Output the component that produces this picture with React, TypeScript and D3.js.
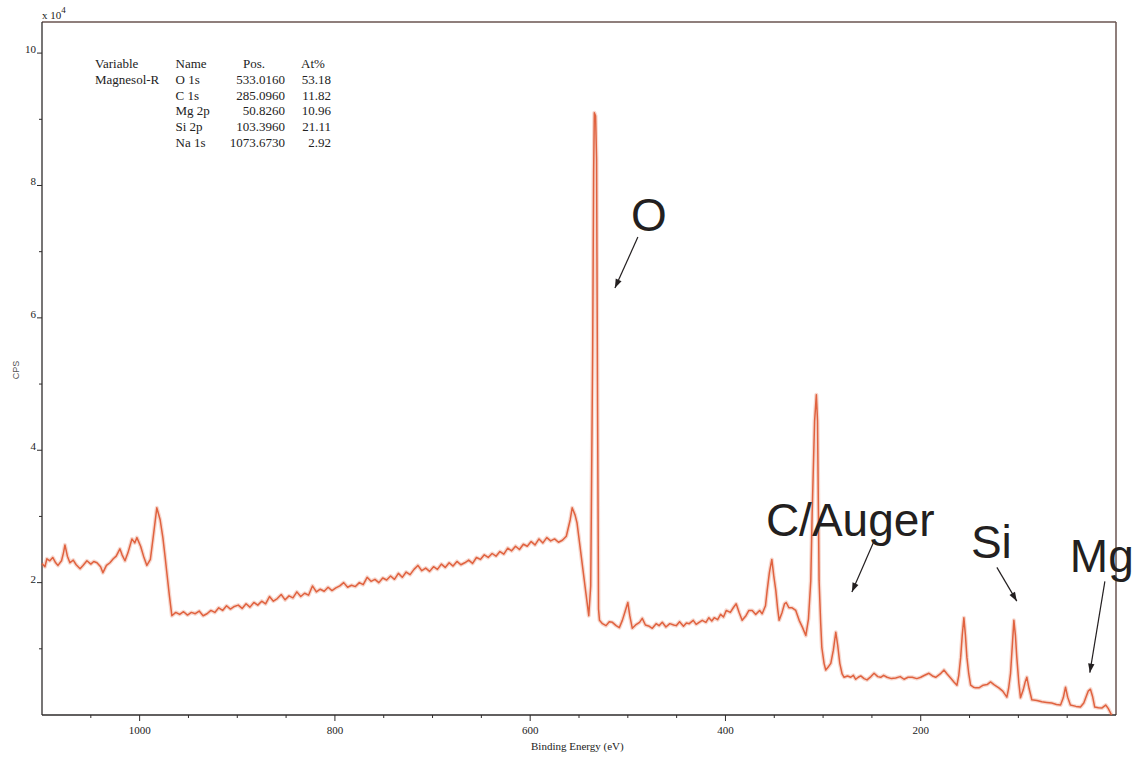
import React, { useEffect } from "react";
import * as d3 from "d3";

// XPS survey spectrum: [binding energy (eV), counts (x10^4 CPS)]
const spectrum: [number, number][] = [
  [1100, 2.29], [1097, 2.24], [1095, 2.36], [1092, 2.33], [1089, 2.38], [1086, 2.30], [1083.6, 2.26],
  [1080, 2.33], [1078, 2.45], [1076.5, 2.57], [1074, 2.40], [1071.4, 2.30], [1068, 2.34], [1065, 2.27],
  [1061, 2.21], [1058, 2.26], [1054, 2.33], [1050, 2.28], [1047, 2.32], [1043.7, 2.30], [1040, 2.24],
  [1037.6, 2.15], [1034, 2.26], [1030.4, 2.30], [1027, 2.36], [1024, 2.40], [1020.2, 2.51], [1018, 2.42],
  [1015, 2.33], [1012, 2.45], [1007.9, 2.66], [1005, 2.60], [1002.8, 2.68], [999, 2.55], [996, 2.40],
  [992.6, 2.26], [989, 2.35], [986, 2.70], [982.4, 3.13], [979, 2.95], [976.2, 2.68], [974, 2.40],
  [972, 2.13], [969.5, 1.80], [967, 1.50], [963, 1.55], [959, 1.52], [955, 1.56], [951, 1.51], [947, 1.55],
  [943, 1.53], [939, 1.57], [935, 1.50], [931, 1.53], [927, 1.58], [923, 1.55], [919, 1.62], [915, 1.58],
  [911, 1.65], [907, 1.60], [903, 1.64], [899, 1.66], [895, 1.61], [891, 1.68], [887, 1.63], [883, 1.70],
  [879, 1.66], [875, 1.72], [871, 1.68], [867, 1.79], [863, 1.72], [859, 1.76], [855, 1.82], [851, 1.74],
  [847, 1.80], [843, 1.77], [839, 1.86], [835, 1.79], [831, 1.84], [827, 1.81], [823, 1.95], [819, 1.86],
  [815, 1.90], [811, 1.87], [807, 1.93], [803, 1.88], [799, 1.92], [795, 1.95], [791, 2.00], [787, 1.93],
  [783, 1.96], [779, 1.94], [775, 2.00], [771, 1.97], [767, 2.08], [763, 2.02], [759, 2.05], [755, 2.00],
  [751, 2.07], [747, 2.04], [743, 2.10], [739, 2.05], [735, 2.14], [731, 2.08], [727, 2.16], [723, 2.12],
  [719, 2.20], [715, 2.26], [711, 2.18], [707, 2.22], [703, 2.17], [699, 2.24], [695, 2.20], [691, 2.28],
  [687, 2.23], [683, 2.30], [679, 2.25], [675, 2.32], [671, 2.27], [667, 2.30], [663, 2.34], [659, 2.29],
  [655, 2.38], [651, 2.35], [647, 2.42], [643, 2.38], [639, 2.44], [635, 2.40], [631, 2.47], [627, 2.43],
  [623, 2.52], [619, 2.48], [615, 2.55], [611, 2.50], [607, 2.58], [603, 2.55], [599, 2.62], [595, 2.57],
  [591, 2.66], [587, 2.60], [583, 2.68], [579, 2.63], [575, 2.66], [571, 2.61], [567, 2.64], [563, 2.70],
  [559, 2.95], [557, 3.13], [554, 3.02], [552, 2.90], [549, 2.55], [546, 2.20], [543, 1.85], [540, 1.50],
  [538, 1.95], [536, 5.5], [535, 8.2], [534.3, 9.10], [533, 9.05], [532, 8.4], [531, 4.7], [530, 1.6],
  [529, 1.43], [526, 1.38], [522.3, 1.35], [519, 1.41], [515.8, 1.40], [512, 1.35], [508.7, 1.32],
  [505.6, 1.43], [502, 1.60], [500, 1.70], [498, 1.50], [495.4, 1.31], [492, 1.36], [488, 1.40],
  [485.2, 1.46], [482, 1.36], [478, 1.34], [474.9, 1.31], [471, 1.38], [468, 1.35], [464.7, 1.40],
  [461, 1.33], [457, 1.38], [453, 1.36], [450.4, 1.35], [447, 1.41], [443, 1.34], [440, 1.39],
  [437.1, 1.38], [433, 1.43], [430, 1.37], [427, 1.40], [423.8, 1.43], [420, 1.40], [417, 1.47],
  [414, 1.42], [411.5, 1.47], [408, 1.44], [405, 1.52], [402, 1.48], [399.2, 1.58], [395, 1.55],
  [392, 1.62], [389, 1.68], [386, 1.55], [382.9, 1.43], [379, 1.50], [376, 1.58], [372.6, 1.58],
  [369, 1.52], [365, 1.58], [362.4, 1.53], [359, 1.65], [357.3, 1.88], [355, 2.15], [352.5, 2.35],
  [350.5, 2.10], [348.4, 1.88], [346.5, 1.60], [345, 1.43], [342, 1.55], [339.5, 1.68], [337.8, 1.70],
  [335, 1.62], [331.7, 1.62], [328, 1.58], [324.5, 1.43], [321, 1.32], [317.7, 1.20], [315, 1.45],
  [312.6, 2.03], [311.2, 3.04], [309.5, 4.0], [308.7, 4.44], [306.9, 4.84], [305.7, 4.44], [304.1, 2.03],
  [302.5, 1.40], [301.3, 1.02], [299, 0.78], [297.3, 0.68], [295, 0.72], [292.1, 0.78], [289.5, 0.98],
  [287, 1.25], [285, 1.05], [282.9, 0.78], [280.5, 0.62], [278.5, 0.57], [275, 0.59], [271.7, 0.57],
  [269, 0.60], [266.6, 0.54], [264, 0.57], [261.4, 0.59], [258, 0.55], [255, 0.53], [251, 0.58],
  [247.8, 0.63], [244, 0.58], [241, 0.57], [238, 0.60], [234.5, 0.57], [230, 0.55], [225.6, 0.56],
  [221, 0.58], [217.1, 0.54], [213, 0.57], [208.7, 0.57], [204, 0.55], [200, 0.57], [196, 0.60],
  [191.6, 0.63], [188, 0.59], [184.7, 0.57], [180, 0.62], [176.2, 0.68], [173, 0.62], [169.4, 0.56],
  [166, 0.50], [162.9, 0.45], [161, 0.60], [159.1, 0.87], [157.5, 1.20], [155.8, 1.47], [154.2, 1.20],
  [152.7, 0.87], [150.8, 0.62], [148.9, 0.45], [146, 0.42], [143.8, 0.41], [140.4, 0.41], [136, 0.45],
  [132, 0.46], [128.5, 0.50], [125, 0.46], [122, 0.43], [120, 0.41], [116, 0.36], [111.8, 0.27],
  [110, 0.40], [108, 0.63], [106.2, 1.05], [104.6, 1.43], [103, 1.20], [101.6, 0.87], [99.5, 0.48],
  [97.8, 0.26], [95, 0.38], [93, 0.50], [91.3, 0.57], [89, 0.40], [86.2, 0.23], [81, 0.22], [76, 0.20],
  [71, 0.19], [65.8, 0.18], [61, 0.16], [56.8, 0.15], [54, 0.26], [51.7, 0.42], [49.5, 0.27],
  [46.7, 0.15], [41, 0.13], [36.4, 0.12], [33, 0.18], [31, 0.26], [28.5, 0.36], [26.2, 0.39],
  [24, 0.28], [21.8, 0.12], [18, 0.11], [14.6, 0.105], [10.6, 0.15], [8, 0.10], [4.5, 0.0],
];

const xMajorTicks = [1000, 800, 600, 400, 200];
const xMinorTicks = [1050, 950, 900, 850, 750, 700, 650, 550, 500, 450, 350, 300, 250, 150, 100, 50];
const yMajorTicks = [2, 4, 6, 8, 10];
const yMinorTicks = [1, 3, 5, 7, 9];

const tableHeader = ["Variable", "Name", "Pos.", "At%"];
const sampleName = "Magnesol-R";
const peakNames = ["O 1s", "C 1s", "Mg 2p", "Si 2p", "Na 1s"];
const peakPositions = ["533.0160", "285.0960", "50.8260", "103.3960", "1073.6730"];
const atomicPercent = ["53.18", "11.82", "10.96", "21.11", "2.92"];

// annotation label anchor and arrow, in data coordinates (eV, x10^4 CPS)
const annotations = [
  { label: "O", at: [496.8, 7.31], from: [489.7, 7.22], to: [513.2, 6.45] },
  { label: "C/Auger", at: [358.6, 2.70], from: [248.0, 2.62], to: [270.5, 1.86] },
  { label: "Si", at: [148.6, 2.37], from: [122.0, 2.23], to: [101.6, 1.72] },
  { label: "Mg", at: [47.3, 2.16], from: [11.4, 2.02], to: [26.8, 0.64] },
];

const W = 1133;
const H = 758;
const left = 42;
const right = 1116;
const top = 22;
const bottom = 715;

export default function App() {
  useEffect(() => {
    document.body.style.margin = "0";
  }, []);

  const x = d3.scaleLinear().domain([1100, 0]).range([left, right]);
  const y = d3.scaleLinear().domain([0, 10.47]).range([bottom, top]);

  const line = d3
    .line<[number, number]>()
    .x((d) => x(d[0]))
    .y((d) => y(d[1]));

  const serif = "'Liberation Serif', 'Times New Roman', serif";
  const sans = "'Liberation Sans', Arial, sans-serif";
  const lineColor = "#e0623f";
  const axisColor = "#2e2b2b";
  const frameColor = "#6a5450";

  const rowY = (i: number) => 68 + i * 15.8;

  const arrowHead = (fx: number, fy: number, tx: number, ty: number) => {
    const ang = Math.atan2(ty - fy, tx - fx);
    const len = 9;
    const half = 3.2;
    const bx = tx - len * Math.cos(ang);
    const by = ty - len * Math.sin(ang);
    const px = -Math.sin(ang) * half;
    const py = Math.cos(ang) * half;
    return `${tx},${ty} ${bx + px},${by + py} ${bx - px},${by - py}`;
  };

  return (
    <svg
      width={W}
      height={H}
      style={{ position: "absolute", left: 0, top: 0, background: "#fff" }}
    >
      <rect x={0} y={0} width={W} height={H} fill="#fff" />

      {/* frame */}
      <line x1={left} y1={top} x2={right} y2={top} stroke={frameColor} strokeWidth={1.5} />
      <line x1={right} y1={top} x2={right} y2={bottom} stroke={frameColor} strokeWidth={1.5} />
      <line x1={left} y1={top} x2={left} y2={bottom} stroke={axisColor} strokeWidth={1.3} />
      <line x1={left} y1={bottom} x2={right} y2={bottom} stroke={axisColor} strokeWidth={1.3} />

      {/* y ticks */}
      {yMajorTicks.map((t) => (
        <g key={"ym" + t}>
          <line x1={left - 5} x2={left} y1={y(t)} y2={y(t)} stroke={axisColor} strokeWidth={1} />
          <text
            x={left - 6}
            y={y(t)}
            textAnchor="end"
            fontFamily={serif}
            fontSize={11}
            fill="#222"
          >
            {t}
          </text>
        </g>
      ))}
      {yMinorTicks.map((t) => (
        <line key={"yn" + t} x1={left - 3} x2={left} y1={y(t)} y2={y(t)} stroke={axisColor} strokeWidth={1} />
      ))}

      {/* x ticks */}
      {xMajorTicks.map((t) => (
        <g key={"xm" + t}>
          <line x1={x(t)} x2={x(t)} y1={bottom} y2={bottom + 6} stroke={axisColor} strokeWidth={1} />
          <text
            x={x(t)}
            y={bottom + 19}
            textAnchor="middle"
            fontFamily={serif}
            fontSize={11}
            fill="#222"
          >
            {t}
          </text>
        </g>
      ))}
      {xMinorTicks.map((t) => (
        <line key={"xn" + t} x1={x(t)} x2={x(t)} y1={bottom} y2={bottom + 3} stroke={axisColor} strokeWidth={1} />
      ))}

      {/* axis titles */}
      <text x={531} y={750} fontFamily={serif} fontSize={11} fill="#222">
        Binding Energy (eV)
      </text>
      <text
        transform={`translate(19,370) rotate(-90)`}
        textAnchor="middle"
        fontFamily={sans}
        fontSize={9}
        fill="#555"
      >
        CPS
      </text>
      <text x={42} y={19} fontFamily={serif} fontSize={11} fill="#222">
        x 10
        <tspan dy={-6} fontSize={9}>
          4
        </tspan>
      </text>

      {/* table */}
      <g fontFamily={serif} fontSize={13} fill="#222">
        <text x={95} y={rowY(0)}>{tableHeader[0]}</text>
        <text x={175.5} y={rowY(0)}>{tableHeader[1]}</text>
        <text x={254} y={rowY(0)} textAnchor="middle">{tableHeader[2]}</text>
        <text x={313} y={rowY(0)} textAnchor="middle">{tableHeader[3]}</text>
        <text x={95} y={rowY(1)}>{sampleName}</text>
        {peakNames.map((n, i) => (
          <g key={n}>
            <text x={175.5} y={rowY(i + 1)}>{n}</text>
            <text x={285} y={rowY(i + 1)} textAnchor="end">{peakPositions[i]}</text>
            <text x={331} y={rowY(i + 1)} textAnchor="end">{atomicPercent[i]}</text>
          </g>
        ))}
      </g>

      {/* spectrum */}
      <path
        d={line(spectrum) || ""}
        fill="none"
        stroke={lineColor}
        strokeOpacity={0.25}
        strokeWidth={4}
        strokeLinejoin="round"
      />
      <path
        d={line(spectrum) || ""}
        fill="none"
        stroke={lineColor}
        strokeWidth={1.5}
        strokeLinejoin="round"
      />

      {/* annotations */}
      {annotations.map((a) => {
        const fx = x(a.from[0]);
        const fy = y(a.from[1]);
        const tx = x(a.to[0]);
        const ty = y(a.to[1]);
        return (
          <g key={a.label}>
            <text
              x={x(a.at[0])}
              y={y(a.at[1])}
              fontFamily={sans}
              fontSize={46}
              fill="#231f20"
            >
              {a.label}
            </text>
            <line x1={fx} y1={fy} x2={tx} y2={ty} stroke="#231f20" strokeWidth={1.2} />
            <polygon points={arrowHead(fx, fy, tx, ty)} fill="#231f20" />
          </g>
        );
      })}
    </svg>
  );
}
